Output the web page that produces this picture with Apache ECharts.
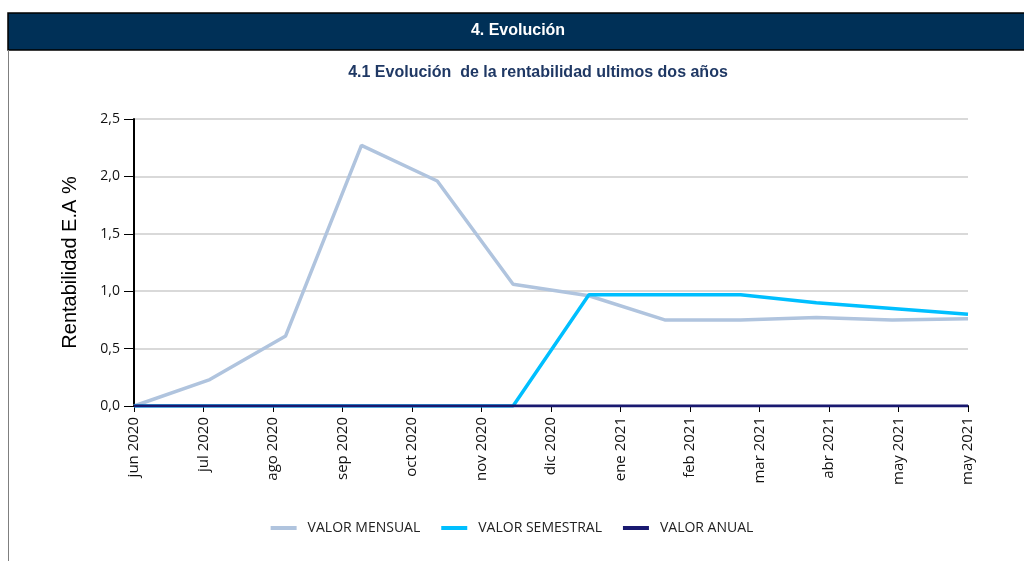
<!DOCTYPE html>
<html>
<head>
<meta charset="utf-8">
<script src="https://cdn.jsdelivr.net/npm/echarts@6/dist/echarts.min.js"></script>
<style>
  html, body { margin: 0; padding: 0; background: #fff; }
  #main { width: 1024px; height: 561px; }
</style>
</head>
<body>
<div id="main"></div>
<script>
// tick labels on the axis (13) and the monthly points (12)
const axisLabels = ['jun 2020', 'jul 2020', 'ago 2020', 'sep 2020', 'oct 2020', 'nov 2020', 'dic 2020',
    'ene 2021', 'feb 2021', 'mar 2021', 'abr 2021', 'may 2021', 'may 2021'];
const pointMonths = ['2020-06', '2020-07', '2020-08', '2020-09', '2020-10', '2020-11',
    '2020-12', '2021-01', '2021-02', '2021-03', '2021-04', '2021-05'];

const valorMensual = [0, 0.23, 0.61, 2.27, 1.96, 1.06, 0.96, 0.75, 0.75, 0.77, 0.75, 0.76];
const valorSemestral = [0, 0, 0, 0, 0, 0, 0.97, 0.97, 0.97, 0.90, 0.85, 0.80];
const valorAnual = [0, 0, 0, 0, 0, 0, 0, 0, 0, 0, 0, 0];

const chart = echarts.init(document.getElementById('main'));

const option = {
    animation: false,
    graphic: [
        {
            type: 'rect',
            shape: { x: 8, y: 13, width: 1020, height: 37 },
            style: { fill: '#003057', stroke: '#000', lineWidth: 1.5 }
        },
        {
            type: 'line',
            shape: { x1: 8.5, y1: 50, x2: 8.5, y2: 561 },
            style: { stroke: '#7f7f7f', lineWidth: 1 }
        },
        {
            type: 'text',
            x: 518, y: 31,
            style: {
                text: '4. Evolución', fill: '#fff', align: 'center', verticalAlign: 'middle',
                font: 'bold 16px "Liberation Sans", Arial, sans-serif'
            }
        },
        {
            type: 'text',
            x: 538, y: 73,
            style: {
                text: '4.1 Evolución  de la rentabilidad ultimos dos años', fill: '#1f3864',
                align: 'center', verticalAlign: 'middle',
                font: 'bold 16px "Liberation Sans", Arial, sans-serif'
            }
        }
    ],
    legend: {
        bottom: 21,
        left: 'center',
        itemWidth: 26,
        itemHeight: 4,
        itemGap: 21,
        icon: 'rect',
        textStyle: { fontFamily: 'Open Sans', fontSize: 14, color: '#222', padding: [0, 0, 0, 6] },
        data: ['VALOR MENSUAL', 'VALOR SEMESTRAL', 'VALOR ANUAL']
    },
    grid: { left: 134, right: 56, top: 119, bottom: 155 },
    xAxis: [
        {
            type: 'category',
            data: pointMonths,
            boundaryGap: false,
            show: false
        },
        {
            type: 'category',
            data: axisLabels,
            boundaryGap: false,
            position: 'bottom',
            axisLine: { show: true, lineStyle: { color: '#000', width: 2 } },
            axisTick: { show: true, length: 6, lineStyle: { color: '#000' } },
            axisLabel: {
                rotate: 90, interval: 0, margin: 11,
                fontFamily: 'Open Sans', fontSize: 15, color: '#111'
            },
            splitLine: { show: false }
        }
    ],
    yAxis: {
        type: 'value',
        min: 0, max: 2.5, interval: 0.5,
        name: 'Rentabilidad E.A %',
        nameLocation: 'middle',
        nameRotate: 90,
        nameGap: 54,
        nameTextStyle: { fontFamily: 'Liberation Sans', fontSize: 20, color: '#000' },
        axisLine: { show: true, lineStyle: { color: '#000', width: 2 } },
        axisTick: { show: true, length: 10, lineStyle: { color: '#000' } },
        axisLabel: {
            fontFamily: 'Open Sans', fontSize: 14, color: '#111', margin: 14,
            formatter: function (v) { return v.toFixed(1).replace('.', ','); }
        },
        splitLine: { lineStyle: { color: '#d9d9d9', width: 2 } }
    },
    series: [
        {
            name: 'VALOR MENSUAL', type: 'line', xAxisIndex: 0,
            data: valorMensual, showSymbol: false, z: 2,
            itemStyle: { color: '#b0c4de' },
            lineStyle: { color: '#b0c4de', width: 3.5 }
        },
        {
            name: 'VALOR SEMESTRAL', type: 'line', xAxisIndex: 0,
            data: valorSemestral, showSymbol: false, z: 3,
            itemStyle: { color: '#00bfff' },
            lineStyle: { color: '#00bfff', width: 3.5 }
        },
        {
            name: 'VALOR ANUAL', type: 'line', xAxisIndex: 0,
            data: valorAnual, showSymbol: false, z: 4,
            itemStyle: { color: '#191970' },
            lineStyle: { color: '#191970', width: 3 }
        }
    ]
};

chart.setOption(option);
</script>
</body>
</html>
